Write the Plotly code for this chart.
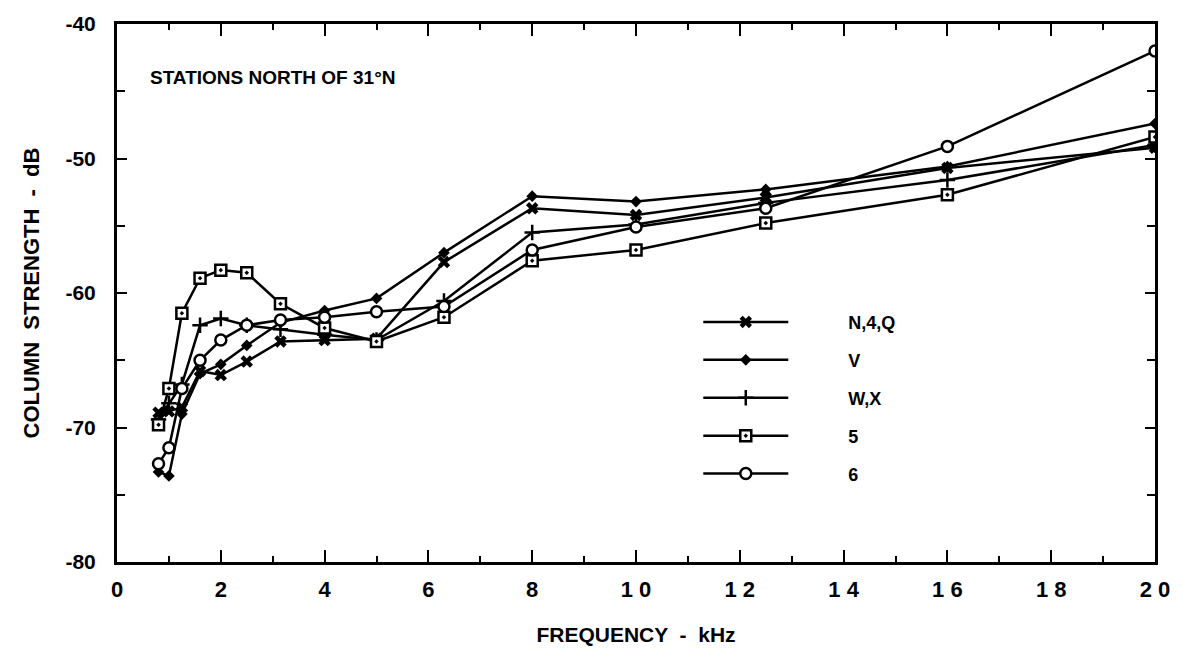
import plotly.graph_objects as go

freq = [0.8, 1.0, 1.25, 1.6, 2.0, 2.5, 3.15, 4.0, 5.0, 6.3, 8.0, 10.0, 12.5, 16.0, 20.0]

n4q = [-68.9, -68.8, -68.5, -65.8, -66.1, -65.1, -63.6, -63.5, -63.4, -57.7, -53.7, -54.2, -52.9, -50.7, -49.2]
v = [-73.3, -73.6, -69.0, -66.0, -65.3, -63.9, -62.2, -61.3, -60.4, -57.0, -52.8, -53.2, -52.3, -50.6, -47.4]
wx = [-69.4, -68.2, -66.8, -62.4, -61.9, -62.4, -62.7, -63.1, -63.5, -60.6, -55.5, -54.9, -53.3, -51.6, -49.0]
s5 = [-69.8, -67.1, -61.5, -58.9, -58.3, -58.5, -60.8, -62.6, -63.6, -61.8, -57.6, -56.8, -54.8, -52.7, -48.4]
c6 = [-72.7, -71.5, -67.1, -65.0, -63.5, -62.4, -62.0, -61.8, -61.4, -61.0, -56.8, -55.1, -53.7, -49.1, -42.0]

series_names = ["N,4,Q", "V", "W,X", "5", "6"]
series_vals = [n4q, v, wx, s5, c6]

x_tickvals = [0, 2, 4, 6, 8, 10, 12, 14, 16, 18, 20]
x_ticktext = ["0", "2", "4", "6", "8", "1 0", "1 2", "1 4", "1 6", "1 8", "2 0"]
y_tickvals = [-80, -70, -60, -50, -40]
y_ticktext = ["-80", "-70", "-60", "-50", "-40"]

markers = [
    dict(symbol="x", size=11, color="black", line=dict(width=0)),
    dict(symbol="diamond", size=9, color="black", line=dict(width=0)),
    dict(symbol="cross-thin", size=11, color="black", line=dict(width=2.5, color="black")),
    dict(symbol="square-dot", size=11, color="white", line=dict(width=2.5, color="black")),
    dict(symbol="circle", size=11, color="white", line=dict(width=2.5, color="black")),
]

FONT = "Liberation Sans"
fig = go.Figure()
pad = "\u00a0" * 11
for name, vals, mk in zip(series_names, series_vals, markers):
    fig.add_trace(go.Scatter(
        x=freq, y=vals, mode="lines+markers", name=pad + name,
        legendgroup=name,
        line=dict(color="black", width=2.5),
        marker=mk,
    ))

fig.add_annotation(
    x=0.03, y=0.90, xref="paper", yref="paper", xanchor="left", yanchor="middle",
    text="STATIONS NORTH OF 31°N", showarrow=False,
    font=dict(family=FONT, size=19, color="black", weight="bold"),
)

fig.update_layout(
    width=1182, height=658,
    margin=dict(l=117, r=24, t=20, b=96),
    paper_bgcolor="white", plot_bgcolor="white",
    font=dict(family=FONT, color="black"),
    showlegend=True,
    legend=dict(
        x=0.56, y=0.48, xanchor="left", yanchor="top",
        bgcolor="rgba(0,0,0,0)", borderwidth=0,
        itemwidth=85, tracegroupgap=11.5,
        font=dict(family=FONT, size=18, color="black", weight="bold"),
    ),
    xaxis=dict(
        range=[0, 20], showgrid=False, zeroline=False,
        showline=True, linecolor="black", linewidth=3, mirror="ticks",
        ticks="inside", ticklen=12, tickwidth=2, tickcolor="black",
        tickvals=x_tickvals, ticktext=x_ticktext,
        minor=dict(dtick=1, ticks="inside", ticklen=6, tickwidth=1.5, tickcolor="black"),
        tickfont=dict(family=FONT, size=22, color="black", weight="bold"),
        ticklabelstandoff=6,
        title=dict(text="FREQUENCY  -  kHz", standoff=26,
                   font=dict(family=FONT, size=21, color="black", weight="bold")),
    ),
    yaxis=dict(
        range=[-80, -40], showgrid=False, zeroline=False,
        showline=True, linecolor="black", linewidth=3, mirror="ticks",
        ticks="inside", ticklen=10, tickwidth=2, tickcolor="black",
        tickvals=y_tickvals, ticktext=y_ticktext,
        minor=dict(dtick=5, ticks="inside", ticklen=8, tickwidth=1.5, tickcolor="black"),
        tickfont=dict(family=FONT, size=21, color="black", weight="bold"),
        ticklabelstandoff=14,
        title=dict(text="COLUMN  STRENGTH  -  dB", standoff=20,
                   font=dict(family=FONT, size=22, color="black", weight="bold")),
    ),
)

fig.write_html("out.html")
